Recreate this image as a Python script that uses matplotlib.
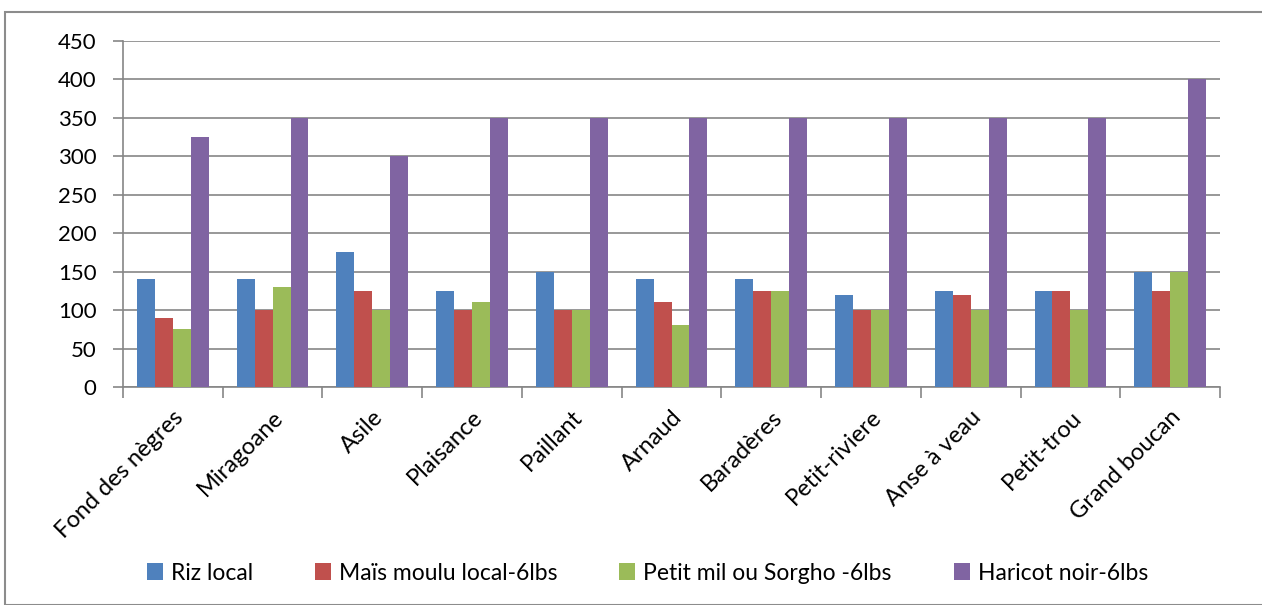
import numpy as np
import matplotlib
matplotlib.use('Agg')
import matplotlib.pyplot as plt
from matplotlib.patches import Rectangle

plt.rcParams['font.family'] = ['Lato', 'DejaVu Sans']

communes = ['Fond des nègres', 'Miragoane', 'Asile', 'Plaisance', 'Paillant', 'Arnaud',
            'Baradères', 'Petit-riviere', 'Anse à veau', 'Petit-trou', 'Grand boucan']
riz_local = [140, 140, 175, 125, 150, 140, 140, 120, 125, 125, 150]
mais_moulu = [90, 100, 125, 100, 100, 110, 125, 100, 120, 125, 125]
petit_mil = [75, 130, 100, 110, 100, 80, 125, 100, 100, 100, 150]
haricot_noir = [325, 350, 300, 350, 350, 350, 350, 350, 350, 350, 400]
series_names = ['Riz local', 'Maïs moulu local-6lbs', 'Petit mil ou Sorgho -6lbs', 'Haricot noir-6lbs']
colors = ['#4F81BD', '#C0504D', '#9BBB59', '#8064A2']

fig = plt.figure(figsize=(12.62, 6.05), dpi=100, facecolor='white')
# chart frame
fig.patches.append(Rectangle((5/1262, 0), 1.0, 1 - 12/605, transform=fig.transFigure,
                             fill=False, edgecolor='#8c8c8c', linewidth=1.5))

ax = fig.add_axes([123/1262, 1 - 387/605, (1220 - 123)/1262, (387 - 41)/605])

x = np.arange(len(communes))
w = 0.18
all_series = [riz_local, mais_moulu, petit_mil, haricot_noir]
for i, (vals, name, c) in enumerate(zip(all_series, series_names, colors)):
    ax.bar(x + (i - 1.5) * w, vals, width=w, color=c, label=name, zorder=3)

ax.set_xlim(-0.5, len(communes) - 0.5)
ax.set_ylim(0, 450)
ax.set_yticks(range(0, 451, 50))
ax.tick_params(axis='y', labelsize=16, length=7, color='#868686', width=1.2, pad=12)
ax.yaxis.grid(True, color='#868686', linewidth=1.2, zorder=0)

ax.set_xticks(np.arange(-0.5, len(communes), 1.0))
ax.set_xticklabels([])
ax.tick_params(axis='x', length=8, color='#868686', width=1.2)
ax.set_xticks(x, minor=True)
ax.set_xticklabels(communes, minor=True, rotation=45, ha='right', rotation_mode='anchor', fontsize=17)
ax.tick_params(axis='x', which='minor', length=0, pad=14)

for s in ['top', 'right']:
    ax.spines[s].set_visible(False)
for s in ['left', 'bottom']:
    ax.spines[s].set_color('#868686')
    ax.spines[s].set_linewidth(1.2)

fig.legend(loc='center', bbox_to_anchor=(0.513, 1 - 573/605), ncol=4, frameon=False,
           fontsize=16.5, handlelength=0.7, handleheight=0.7, handletextpad=0.35, columnspacing=2.7)

plt.savefig('out.png', dpi=100)
